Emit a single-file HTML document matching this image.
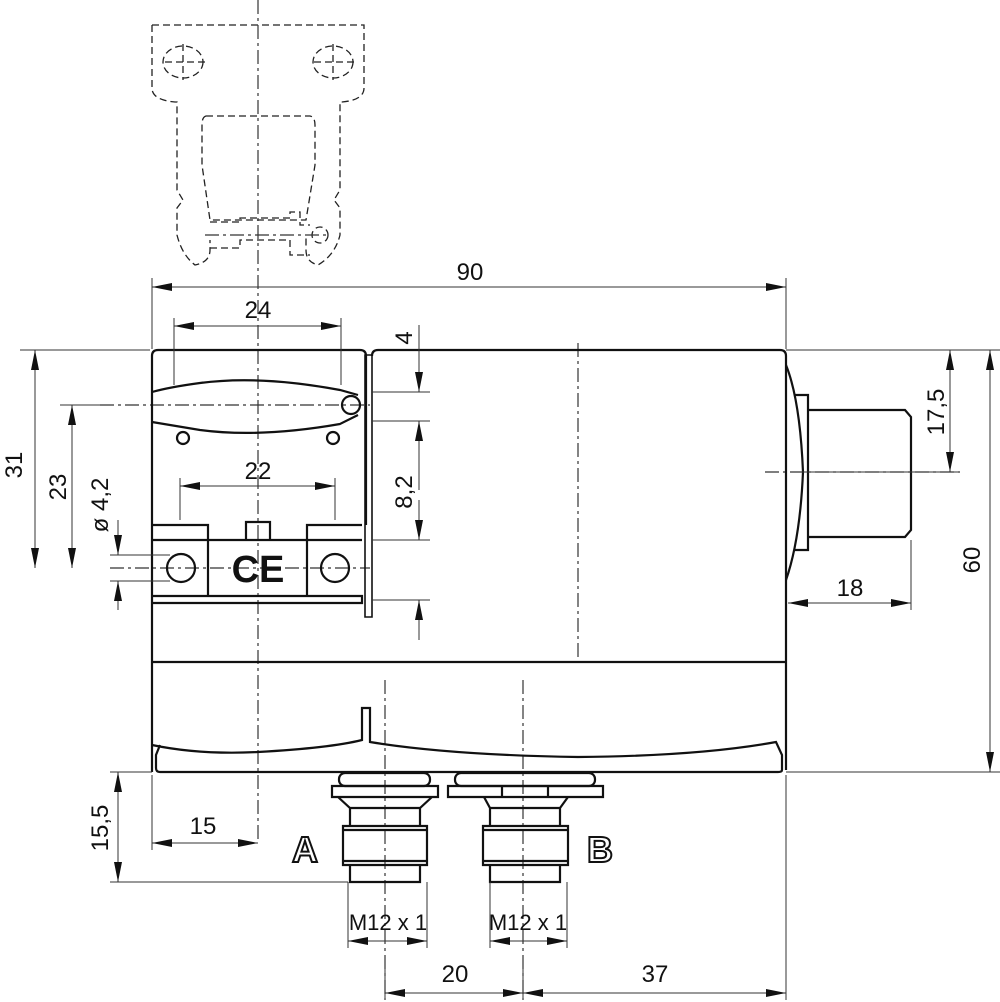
<!DOCTYPE html><html><head><style>body{margin:0;background:#fff}svg{display:block}text{font-family:"Liberation Sans",sans-serif;font-size:24px;fill:#111}</style></head><body>
<svg width="1000" height="1002" viewBox="0 0 1000 1002" xmlns="http://www.w3.org/2000/svg">
<defs><marker id="a" viewBox="0 0 20 8" refX="20" refY="4" markerWidth="20" markerHeight="8" markerUnits="userSpaceOnUse" orient="auto-start-reverse"><path d="M0,0L20,4L0,8z" fill="#111"/></marker></defs>
<g fill="none" stroke="#222" stroke-width="1.3" stroke-dasharray="7,4">
<path d="M152,25H364V88Q364,100 342,102H340V190L334,200L340,208V235Q335,255 318,265Q306,262 306,250V235"/>
<path d="M152,25V88Q152,100 175,102H177V190L183,200L177,208V235Q182,255 195,265Q210,262 210,250V240"/>
<path d="M206,116H310Q315,117 315,125V165L306,220H210L202,165V125Q202,117 206,116Z"/>
<ellipse cx="183" cy="62" rx="20" ry="16"/><ellipse cx="333" cy="62" rx="20" ry="16"/>
<path d="M165,62H205M183,44V80M314,62H354M333,44V80"/>
<path d="M210,222H240V218H290V212H300V225H310M210,248H240V240H290V255H310"/>
<circle cx="320" cy="235" r="8"/>
</g>
<g fill="none" stroke="#333" stroke-width="1.2" stroke-dasharray="14,4,3,4">
<path d="M258,0V840M578,343V660M385,680V1000M523,680V1000M100,405H370M110,568H370M765,472H960"/>
<path d="M205,235H330"/>
</g>
<g fill="none" stroke="#111" stroke-width="2.2">
<path d="M152,356Q152,350 158,350H360Q366,350 366,356V525M372,356Q372,350 378,350H780Q786,350 786,356V770"/>
<path d="M152,356V772M152,662H786"/>
<path d="M365,355H372V617H365Z" stroke-width="1.6"/>
<path d="M152,392Q170,387 200,383Q260,375 340,390L358,395M152,422Q170,425 200,430Q260,438 340,424L358,415"/>
<circle cx="351" cy="405" r="9"/>
<circle cx="183" cy="438" r="6"/><circle cx="333" cy="438" r="6"/>
<path d="M152,525H208V596M307,596V525H362M152,540H362M152,596H362V603H152M208,540V596M246,540V522H270V540"/>
<circle cx="181" cy="568" r="14"/><circle cx="335" cy="568" r="14"/>
<path d="M152,745Q200,755 258,752Q330,748 362,740V708H370V742Q450,755 578,757Q700,756 776,742L782,755V770Q782,772 778,772H160Q156,772 156,768V755L160,745"/>
<path d="M786,365Q800,400 803,472Q800,540 786,580M795,395H808V550H795M808,410H905L911,417V530L905,537H808"/>
<rect x="339" y="773" width="91" height="13" rx="6"/><path d="M332,786H438V797H332ZM338,797L350,808H420L432,797M350,808V826M420,808V826M343,826H427V865H343ZM350,865V882H420V865M343,830H427M343,861H427"/>
<rect x="455" y="773" width="140" height="13" rx="6"/><path d="M448,786H603V797H448ZM502,786V797M548,786V797M484,797L490,808H560L568,797M490,808V826M560,808V826M483,826H568V865H483ZM490,865V882H560V865M483,830H568M483,861H568"/>
</g>
<g fill="none" stroke="#333" stroke-width="1">
<path d="M152,278V349M786,278V349M174,318V385M341,318V385M180,478V520M335,478V520M20,350H150M60,405H110M110,555H170M110,581H170M372,392H430M372,421H430M372,540H430M372,600H430M786,350H1000M786,772H1000M790,472H960M911,540V610M110,772H152M110,882H348M152,775V850M348,882V948M427,882V948M490,882V948M567,882V948M385,960V1000M523,960V1000M786,775V1000"/>
</g>
<g fill="none" stroke="#333" stroke-width="1" marker-start="url(#a)" marker-end="url(#a)">
<path d="M152,287H786"/><path d="M174,326H341"/><path d="M180,486H335"/><path d="M35,350V568"/><path d="M72,405V568"/>
<path d="M990,350V772"/><path d="M950,350V472"/><path d="M788,603H911"/><path d="M118,772V882"/><path d="M152,843H258"/>
<path d="M348,941H427"/><path d="M490,941H567"/><path d="M385,993H523"/><path d="M523,993H786"/>
</g>
<g fill="none" stroke="#333" stroke-width="1" marker-end="url(#a)">
<path d="M419,325V392"/><path d="M419,490V421"/><path d="M419,500V540"/><path d="M419,640V600"/>
<path d="M118,520V555"/><path d="M118,610V581"/>
</g>
<text x="470" y="280" text-anchor="middle">90</text>
<text x="258" y="318" text-anchor="middle">24</text>
<text x="258" y="479" text-anchor="middle">22</text>
<text x="850" y="596" text-anchor="middle">18</text>
<text x="203" y="834" text-anchor="middle">15</text>
<text x="455" y="982" text-anchor="middle">20</text>
<text x="655" y="982" text-anchor="middle">37</text>
<text x="388" y="930" text-anchor="middle" style="font-size:22px">M12 x 1</text>
<text x="528" y="930" text-anchor="middle" style="font-size:22px">M12 x 1</text>
<text transform="translate(22,465) rotate(-90)" text-anchor="middle">31</text>
<text transform="translate(66,487) rotate(-90)" text-anchor="middle">23</text>
<text transform="translate(108,505) rotate(-90)" text-anchor="middle">ø 4,2</text>
<text transform="translate(412,338) rotate(-90)" text-anchor="middle">4</text>
<text transform="translate(412,492) rotate(-90)" text-anchor="middle">8,2</text>
<text transform="translate(944,412) rotate(-90)" text-anchor="middle">17,5</text>
<text transform="translate(980,560) rotate(-90)" text-anchor="middle">60</text>
<text transform="translate(108,828) rotate(-90)" text-anchor="middle">15,5</text>
<text x="305" y="862" text-anchor="middle" style="font-size:36px;font-weight:bold;fill:#fff;stroke:#111;stroke-width:2">A</text>
<text x="600" y="862" text-anchor="middle" style="font-size:36px;font-weight:bold;fill:#fff;stroke:#111;stroke-width:2">B</text>
<text x="258" y="582" text-anchor="middle" style="font-size:38px;font-weight:bold">CE</text>
</svg></body></html>
